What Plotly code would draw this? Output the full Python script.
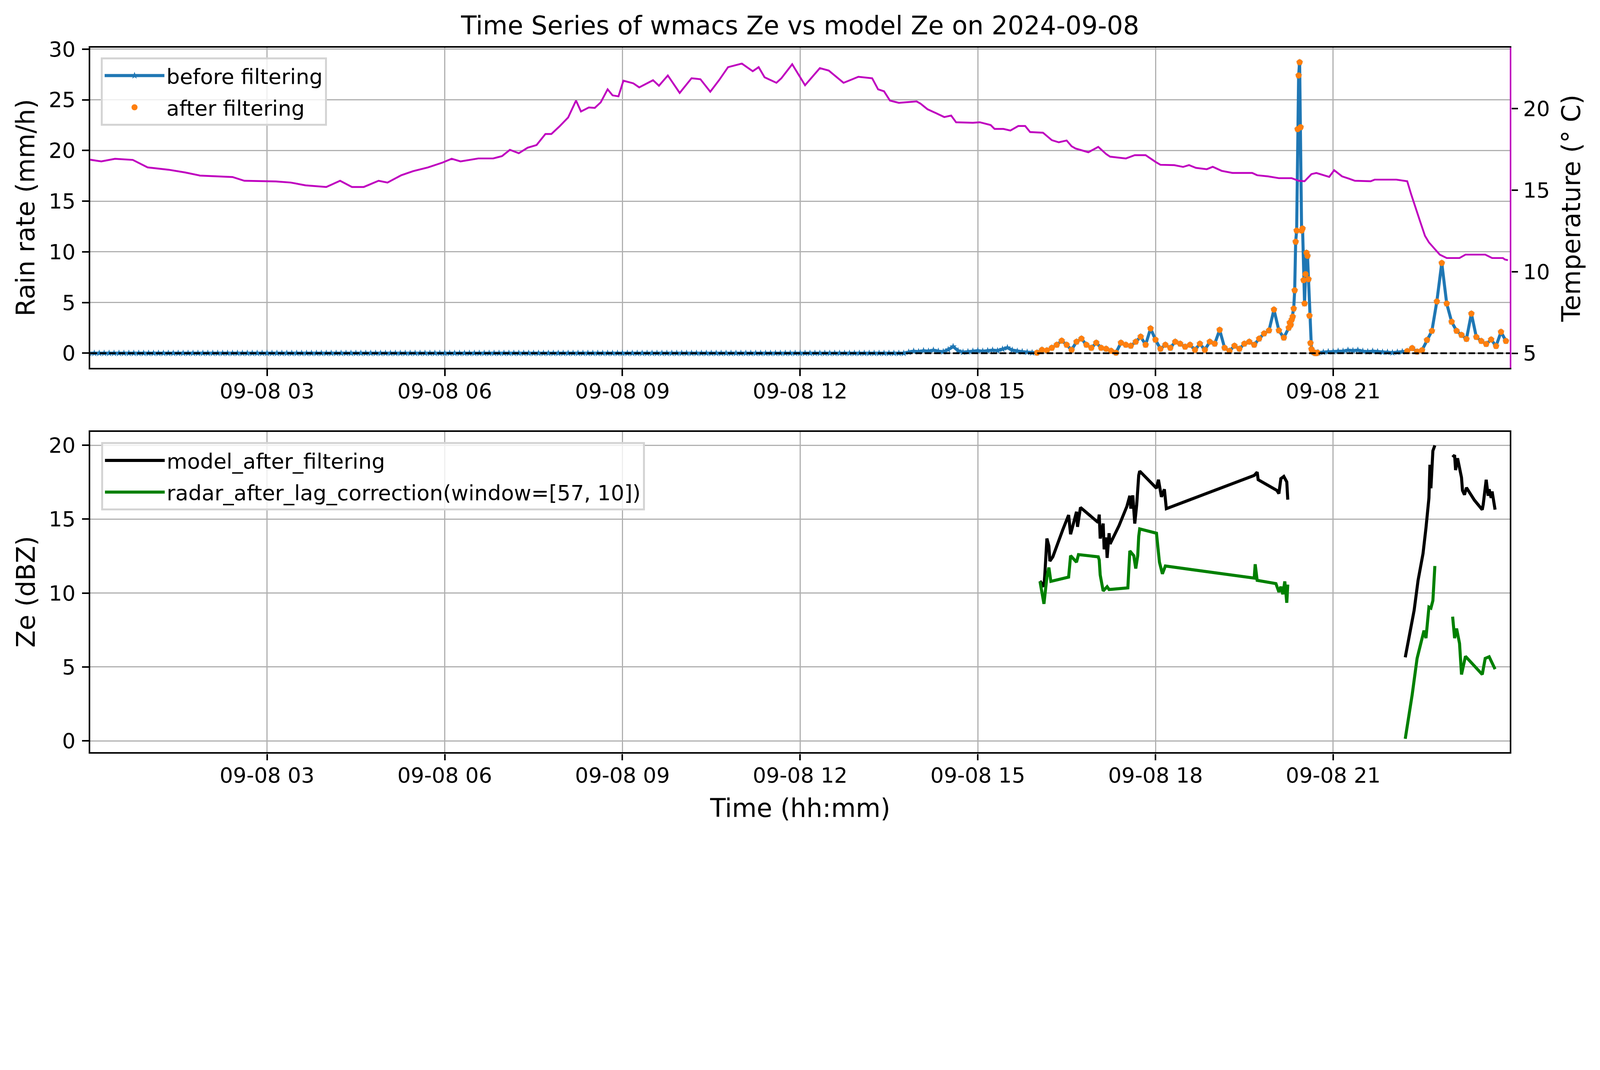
import pandas as pd
import plotly.graph_objects as go

DAY = "2024-09-08"

# temperature (deg C)
temp_time = ["00:00", "00:12", "00:26", "00:44", "00:59", "01:20", "01:37", "01:52", "02:25", "02:37",
             "03:09", "03:24", "03:39", "04:00", "04:14", "04:26", "04:38", "04:53", "05:02", "05:16",
             "05:28", "05:43", "05:58", "06:07", "06:16", "06:34", "06:49", "06:58", "07:06", "07:15",
             "07:24", "07:33", "07:42", "07:48", "07:56", "08:05", "08:13", "08:18", "08:26", "08:32",
             "08:38", "08:45", "08:50", "08:56", "09:01", "09:11", "09:17", "09:25", "09:31", "09:37",
             "09:46", "09:58", "10:10", "10:19", "10:29", "10:38", "10:47", "11:01", "11:12", "11:18",
             "11:24", "11:36", "11:41", "11:52", "12:05", "12:20", "12:29", "12:44", "12:59", "13:13",
             "13:19", "13:25", "13:31", "13:40", "13:58", "14:02", "14:09", "14:18", "14:26", "14:33",
             "14:38", "14:55", "15:02", "15:13", "15:17", "15:26", "15:33", "15:41", "15:48", "15:53",
             "16:06", "16:15", "16:22", "16:30", "16:35", "16:39", "16:52", "17:02", "17:10", "17:14",
             "17:30", "17:39", "17:50", "18:00", "18:05", "18:19", "18:28", "18:34", "18:41", "18:52",
             "18:58", "19:07", "19:18", "19:38", "19:43", "19:54", "20:05", "20:18", "20:25", "20:31",
             "20:38", "20:43", "20:51", "20:56", "21:01", "21:09", "21:16", "21:22", "21:38", "21:42",
             "22:04", "22:15", "22:19", "22:24", "22:28", "22:33", "22:37", "22:44", "22:48", "22:55",
             "23:08", "23:14", "23:34", "23:41", "23:52", "23:54", "23:57"]
temp_c = [16.88, 16.77, 16.93, 16.86, 16.40, 16.26, 16.09, 15.90, 15.81, 15.58,
          15.54, 15.47, 15.30, 15.20, 15.58, 15.20, 15.20, 15.58, 15.47, 15.92,
          16.17, 16.40, 16.70, 16.93, 16.77, 16.95, 16.95, 17.09, 17.48, 17.27,
          17.61, 17.77, 18.45, 18.45, 18.90, 19.46, 20.50, 19.83, 20.08, 20.05,
          20.39, 21.19, 20.82, 20.76, 21.72, 21.56, 21.31, 21.56, 21.75, 21.41,
          22.04, 20.97, 21.87, 21.81, 21.04, 21.76, 22.55, 22.77, 22.30, 22.55,
          21.93, 21.59, 21.87, 22.73, 21.44, 22.49, 22.34, 21.59, 21.96, 21.87,
          21.19, 21.07, 20.50, 20.36, 20.45, 20.31, 19.97, 19.72, 19.49, 19.58,
          19.17, 19.14, 19.17, 19.00, 18.76, 18.76, 18.66, 18.94, 18.94, 18.57,
          18.53, 18.07, 17.94, 18.05, 17.70, 17.56, 17.33, 17.66, 17.22, 17.06,
          16.95, 17.15, 17.15, 16.74, 16.56, 16.54, 16.43, 16.54, 16.37, 16.29,
          16.44, 16.19, 16.06, 16.06, 15.92, 15.85, 15.74, 15.74, 15.58, 15.55,
          15.99, 16.06, 15.92, 15.82, 16.23, 15.85, 15.71, 15.58, 15.55, 15.65,
          15.65, 15.55, 14.75, 13.79, 13.10, 12.20, 11.80, 11.32, 11.05, 10.84,
          10.84, 11.05, 11.05, 10.84, 10.84, 10.75, 10.71]

# rain rate (mm/h)
# dry spell, every 5 min 00:00 - 13:40
rain_quiet = [0.0, 0.0, 0.0, 0.0, 0.0, 0.0, 0.0, 0.0, 0.0, 0.0, 0.0, 0.0, 0.0, 0.0, 0.0,
              0.0, 0.0, 0.0, 0.0, 0.0, 0.0, 0.0, 0.0, 0.0, 0.0, 0.0, 0.0, 0.0, 0.0, 0.0,
              0.0, 0.0, 0.0, 0.0, 0.0, 0.0, 0.0, 0.0, 0.0, 0.0, 0.0, 0.0, 0.0, 0.0, 0.0,
              0.0, 0.0, 0.0, 0.0, 0.0, 0.0, 0.0, 0.0, 0.0, 0.0, 0.0, 0.0, 0.0, 0.0, 0.0,
              0.0, 0.0, 0.0, 0.0, 0.0, 0.0, 0.0, 0.0, 0.0, 0.0, 0.0, 0.0, 0.0, 0.0, 0.0,
              0.0, 0.0, 0.0, 0.0, 0.0, 0.0, 0.0, 0.0, 0.0, 0.0, 0.0, 0.0, 0.0, 0.0, 0.0,
              0.0, 0.0, 0.0, 0.0, 0.0, 0.0, 0.0, 0.0, 0.0, 0.0, 0.0, 0.0, 0.0, 0.0, 0.0,
              0.0, 0.0, 0.0, 0.0, 0.0, 0.0, 0.0, 0.0, 0.0, 0.0, 0.0, 0.0, 0.0, 0.0, 0.0,
              0.0, 0.0, 0.0, 0.0, 0.0, 0.0, 0.0, 0.0, 0.0, 0.0, 0.0, 0.0, 0.0, 0.0, 0.0,
              0.0, 0.0, 0.0, 0.0, 0.0, 0.0, 0.0, 0.0, 0.0, 0.0, 0.0, 0.0, 0.0, 0.0, 0.0,
              0.0, 0.0, 0.0, 0.0, 0.0, 0.0, 0.0, 0.0, 0.0, 0.0, 0.0, 0.0, 0.0, 0.0, 0.0]
# every 5 min 13:45 - 20:15
rain_day = [0.0, 0.1, 0.2, 0.15, 0.25, 0.2, 0.3, 0.2, 0.15, 0.35, 0.65, 0.25,
            0.1, 0.15, 0.2, 0.25, 0.2, 0.25, 0.3, 0.25, 0.4, 0.55, 0.3, 0.2,
            0.15, 0.1, 0.05,
            0.05, 0.33, 0.28, 0.53, 0.83, 1.23, 0.83, 0.33, 1.13, 1.43, 0.83, 0.53,
            1.03, 0.53, 0.43, 0.23, 0.05, 1.03, 0.83, 0.73, 1.13, 1.63, 0.83, 2.44,
            1.33, 0.43, 0.83, 0.53, 1.13, 0.93, 0.63, 0.83, 0.33, 0.93, 0.33, 1.13,
            0.93, 2.3, 0.53, 0.23, 0.73, 0.43, 0.93, 1.13, 0.83, 1.43, 1.94, 2.24,
            4.3, 2.24, 1.53, 2.5]
# every minute 20:16 - 20:44 (the convective cell)
rain_cell = [3.0, 2.8, 3.3, 3.6, 4.4, 6.2, 11.0, 12.1, 22.1, 27.4, 28.7, 22.3,
             12.1, 12.3, 7.2, 4.9, 7.8, 9.9, 9.6, 7.3, 3.7, 1.0, 0.4, 0.2,
             0.1, 0.05, 0.0, 0.0, 0.05]
# every 5 min 20:45 - 23:55
rain_late = [0.05, 0.1, 0.15, 0.15, 0.2, 0.2, 0.3, 0.25, 0.3, 0.2, 0.15, 0.2,
             0.15, 0.1, 0.1, 0.05, 0.1, 0.15, 0.2, 0.5, 0.15, 0.3, 1.3, 2.2,
             5.1, 8.9, 4.9, 3.1, 2.2, 1.8, 1.4, 3.9, 1.6, 1.2, 0.9, 1.35,
             0.7, 2.1, 1.2]

# periods that survive the filter
keep_windows = [("15:58", "20:44"), ("22:15", "23:59")]

# Ze (dBZ), None marks a data gap
model_time = ["16:03", "16:07", "16:08", "16:10", "16:12", "16:13", "16:16", "16:21", "16:26", "16:32",
              "16:34", "16:36", "16:40", "16:41", "16:44", "17:02", "17:03", "17:04", "17:07", "17:08",
              "17:10", "17:11", "17:13", "17:14", "17:23", "17:31", "17:34", "17:35", "17:37", "17:39",
              "17:41", "17:43", "17:44", "18:01", "18:03", "18:06", "18:09", "18:11", "19:40", "19:43",
              "19:44", "20:03", "20:05", "20:07", "20:10", "20:13", "20:14", "21:00",
              "22:13", "22:22", "22:26", "22:31", "22:34", "22:37", "22:38", "22:39", "22:41", "22:43",
              "22:50",
              "23:01", "23:03", "23:04", "23:06", "23:10", "23:11", "23:13", "23:15", "23:23", "23:31",
              "23:32", "23:35", "23:37", "23:38", "23:40", "23:41", "23:44"]
model_ze = [10.82, 10.43, 11.37, 13.69, 13.18, 12.16, 12.45, 13.40, 14.27, 15.28,
            13.98, 14.48, 15.50, 14.48, 15.79, 14.77, 15.31, 13.69, 14.70, 12.96,
            13.76, 12.38, 14.05, 13.32, 14.55, 15.86, 16.58, 15.71, 16.61, 14.70,
            16.00, 17.96, 18.25, 17.09, 17.67, 16.51, 17.02, 15.71, 17.96, 18.18,
            17.67, 16.94, 16.73, 17.74, 17.89, 17.52, 16.32, None,
            5.65, 8.83, 10.86, 12.67, 14.41, 16.44, 18.68, 17.09, 19.62, 19.99,
            None,
            19.19, 19.33, 18.32, 19.12, 17.81, 16.94, 16.65, 17.13, 16.29, 15.64,
            16.00, 17.67, 16.58, 17.02, 16.44, 16.87, 15.64]

radar_time = ["16:03", "16:07", "16:10", "16:12", "16:14", "16:32", "16:34", "16:40", "16:42", "17:02",
              "17:03", "17:04", "17:07", "17:11", "17:13", "17:32", "17:34", "17:38", "17:40", "17:42",
              "17:43", "17:44", "18:01", "18:04", "18:07", "18:10", "19:40", "19:41", "19:43", "20:02",
              "20:05", "20:07", "20:09", "20:11", "20:13", "20:14", "21:00",
              "22:13", "22:20", "22:25", "22:32", "22:34", "22:37", "22:39", "22:41", "22:43", "22:50",
              "23:01", "23:03", "23:05", "23:08", "23:10", "23:14", "23:31", "23:34", "23:38", "23:41",
              "23:44"]
radar_ze = [10.79, 9.27, 11.08, 11.73, 10.79, 11.08, 12.53, 12.09, 12.60, 12.45,
            12.24, 11.22, 10.14, 10.43, 10.24, 10.35, 12.85, 12.53, 11.66, 12.53,
            13.83, 14.34, 14.05, 12.09, 11.30, 11.83, 11.01, 11.95, 10.86, 10.64,
            10.07, 10.43, 9.92, 10.79, 9.34, 10.57, None,
            0.14, 3.11, 5.58, 7.46, 6.95, 9.05, 8.98, 9.49, 11.83, None,
            8.40, 6.95, 7.60, 6.59, 4.49, 5.72, 4.49, 5.58, 5.69, 5.29,
            4.85]


def stamp(times):
    return pd.to_datetime([f"{DAY} {t}" for t in times])


def main():
    rain_t = (list(pd.date_range(f"{DAY} 00:00", periods=len(rain_quiet), freq="5min"))
              + list(pd.date_range(f"{DAY} 13:45", periods=len(rain_day), freq="5min"))
              + list(pd.date_range(f"{DAY} 20:16", periods=len(rain_cell), freq="1min"))
              + list(pd.date_range(f"{DAY} 20:45", periods=len(rain_late), freq="5min")))
    rain = pd.Series(rain_quiet + rain_day + rain_cell + rain_late, index=pd.DatetimeIndex(rain_t))

    keep = pd.Series(False, index=rain.index)
    for a, b in keep_windows:
        keep |= (rain.index >= pd.Timestamp(f"{DAY} {a}")) & (rain.index <= pd.Timestamp(f"{DAY} {b}"))
    filtered = rain[keep]

    font = "DejaVu Sans"
    # the page viewport is ~4096 css px wide, so the chart is laid out at 0.78 scale
    W, H = 4070, 2125
    xdom = [0.05486, 0.94774]
    top_dom = [0.56042, 0.94640]
    bot_dom = [0.09727, 0.48325]
    xmid = (xdom[0] + xdom[1]) / 2
    xrange_ = [f"{DAY} 00:01", f"{DAY} 23:59"]

    fig = go.Figure()

    fig.add_trace(go.Scatter(
        x=rain.index, y=rain.values, mode="lines+markers", name="before filtering",
        line=dict(color="#1f77b4", width=7.8),
        marker=dict(symbol="star", size=14, color="#1f77b4"),
        xaxis="x", yaxis="y", legend="legend", legendgroup="a"))
    fig.add_trace(go.Scatter(
        x=filtered.index, y=filtered.values, mode="markers", name="after filtering",
        marker=dict(symbol="circle", size=15.5, color="#ff7f0e"),
        xaxis="x", yaxis="y", legend="legend", legendgroup="b"))
    fig.add_trace(go.Scatter(
        x=stamp(temp_time), y=temp_c, mode="lines", name="temperature",
        line=dict(color="#bf00bf", width=4.7), showlegend=False,
        xaxis="x", yaxis="y2"))

    fig.add_trace(go.Scatter(
        x=stamp(model_time), y=model_ze, mode="lines", name="model_after_filtering",
        line=dict(color="black", width=7.8),
        xaxis="x2", yaxis="y3", legend="legend2", legendgroup="c"))
    fig.add_trace(go.Scatter(
        x=stamp(radar_time), y=radar_ze, mode="lines", name="radar_after_lag_correction(window=[57, 10])",
        line=dict(color="green", width=7.8),
        xaxis="x2", yaxis="y3", legend="legend2", legendgroup="d"))

    tick_font = dict(family=font, size=54, color="black")
    xcommon = dict(
        type="date", range=xrange_, tick0=f"{DAY} 00:00", dtick=3 * 3600 * 1000,
        tickformat="%m-%d %H", showgrid=True, gridcolor="#b0b0b0", gridwidth=3.4,
        showline=True, linecolor="black", linewidth=4.4, mirror=True,
        ticks="outside", ticklen=16.8, tickwidth=4.4, tickcolor="black",
        tickfont=tick_font, zeroline=False, domain=xdom, ticklabelstandoff=-8,
        automargin=False,
    )
    ycommon = dict(
        showgrid=True, gridcolor="#b0b0b0", gridwidth=3.4,
        showline=True, linecolor="black", linewidth=4.4,
        ticks="outside", ticklen=16.8, tickwidth=4.4, tickcolor="black",
        tickfont=tick_font, zeroline=False, ticklabelstandoff=6, automargin=False,
    )
    legend_common = dict(
        xanchor="left", yanchor="top", bgcolor="rgba(255,255,255,0.8)",
        bordercolor="#d4d4d4", borderwidth=5, tracegroupgap=8,
        font=dict(family=font, size=54, color="black"), itemwidth=153,
    )
    label_font = dict(family=font, size=65, color="black")
    label = dict(xref="paper", yref="paper", showarrow=False, font=label_font,
                 xanchor="center", yanchor="middle")

    fig.update_layout(
        width=W, height=H,
        margin=dict(l=0, r=0, t=0, b=0, autoexpand=False),
        paper_bgcolor="white", plot_bgcolor="white",
        font=dict(family=font, color="black"),
        title=dict(text="Time Series of wmacs Ze vs model Ze on 2024-09-08",
                   x=xmid, xanchor="center", y=0.97289, yanchor="middle",
                   font=dict(family=font, size=65, color="black")),
        xaxis=dict(xcommon, anchor="y"),
        xaxis2=dict(xcommon, anchor="y3"),
        yaxis=dict(ycommon, domain=top_dom, anchor="x", range=[-1.45, 30.15],
                   tickvals=[0, 5, 10, 15, 20, 25, 30], mirror=False),
        yaxis2=dict(ycommon, overlaying="y", side="right", anchor="x",
                    range=[4.10, 23.75], tickvals=[5, 10, 15, 20],
                    showgrid=False, linecolor="#bf00bf", ticklabelstandoff=2),
        yaxis3=dict(ycommon, domain=bot_dom, anchor="x2", range=[-0.77, 20.9],
                    tickvals=[0, 5, 10, 15, 20], mirror=True),
        legend=dict(legend_common, x=0.0614, y=0.93464),
        legend2=dict(legend_common, x=0.0616, y=0.47087),
        shapes=[dict(type="line", xref="x domain", x0=0, x1=1, yref="y", y0=0, y1=0,
                     line=dict(color="black", width=4.4, dash="17px,7px"), layer="above")],
        annotations=[
            dict(label, text="Rain rate (mm/h)", x=0.01415, y=0.75369, textangle=-90),
            dict(label, text="Temperature (° C)", x=0.98649, y=0.75256, textangle=-90),
            dict(label, text="Ze (dBZ)", x=0.01415, y=0.29035, textangle=-90),
            dict(label, text="Time (hh:mm)", x=xmid, y=0.02993),
        ],
    )

    fig.write_html("out.html")


if __name__ == "__main__":
    main()
